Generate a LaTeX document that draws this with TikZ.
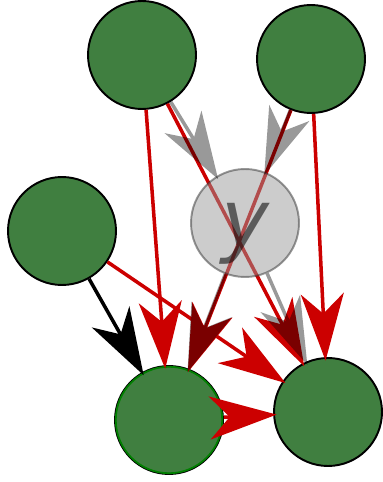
\documentclass[tikz,border=0pt]{standalone}
\usepackage{fontspec}
\usetikzlibrary{arrows.meta}
\newfontfamily\varfont{DejaVu Sans}
\definecolor{nodegreen}{HTML}{407F40}
\definecolor{ringgreen}{HTML}{008000}
\definecolor{arcred}{HTML}{CC0000}
\tikzset{
  obsnode/.style = {circle, fill=nodegreen, draw=black, line width=1.1pt,
                    minimum size=2.16cm, inner sep=0pt},
  latnode/.style = {circle, fill=black!40, draw=black!80, line width=1.1pt,
                    minimum size=2.16cm, inner sep=0pt,
                    fill opacity=0.5, draw opacity=0.5, text opacity=0.55,
                    text height=1cm, text depth=0pt,
                    font=\varfont\itshape\fontsize{46}{46}\selectfont},
  bighead/.style = {-{Stealth[length=1.34cm, width=0.86cm, inset=0.4cm]},
                    shorten >=-2pt},
  redarc/.style  = {bighead, draw=arcred, line width=2pt},
  blackarc/.style = {bighead, draw=black, line width=2pt},
  grayarc/.style = {bighead, draw=black, line width=2pt},
}

\begin{document}
\begin{tikzpicture}[x=0.02cm, y=-0.02cm]
  \useasboundingbox (0,0) rectangle (382,482);
  % observed nodes
  \node[obsnode] (TL) at (142,55) {};
  \node[obsnode] (TR) at (311,59) {};
  \node[obsnode] (L) at (62,231) {};
  \node[obsnode] (BL) at (169,420) {};
  \node[obsnode] (BR) at (328,412) {};
  \draw[ringgreen, line width=1pt] (BL.center) circle (1.065cm);
  % red and black edges
  \draw[redarc] (TL) -- (BL);
  \draw[redarc] (TL) -- (BR);
  \draw[redarc] (TR) -- (BR);
  \draw[redarc] (TR) -- (BL);
  \draw[redarc] (L) -- (BR);
  \draw[blackarc] (L) -- (BL);
  \draw[redarc] (BL) -- (BR);
  % latent node
  \node[latnode] (Y) at (245,223) {y};
  \begin{scope}[transparency group, opacity=0.4]
    \draw[grayarc] (TL) -- (Y);
    \draw[grayarc] (TR) -- (Y);
    \draw[grayarc] (Y) -- (BL);
    \draw[grayarc] (Y) -- (BR);
  \end{scope}
\end{tikzpicture}
\end{document}
